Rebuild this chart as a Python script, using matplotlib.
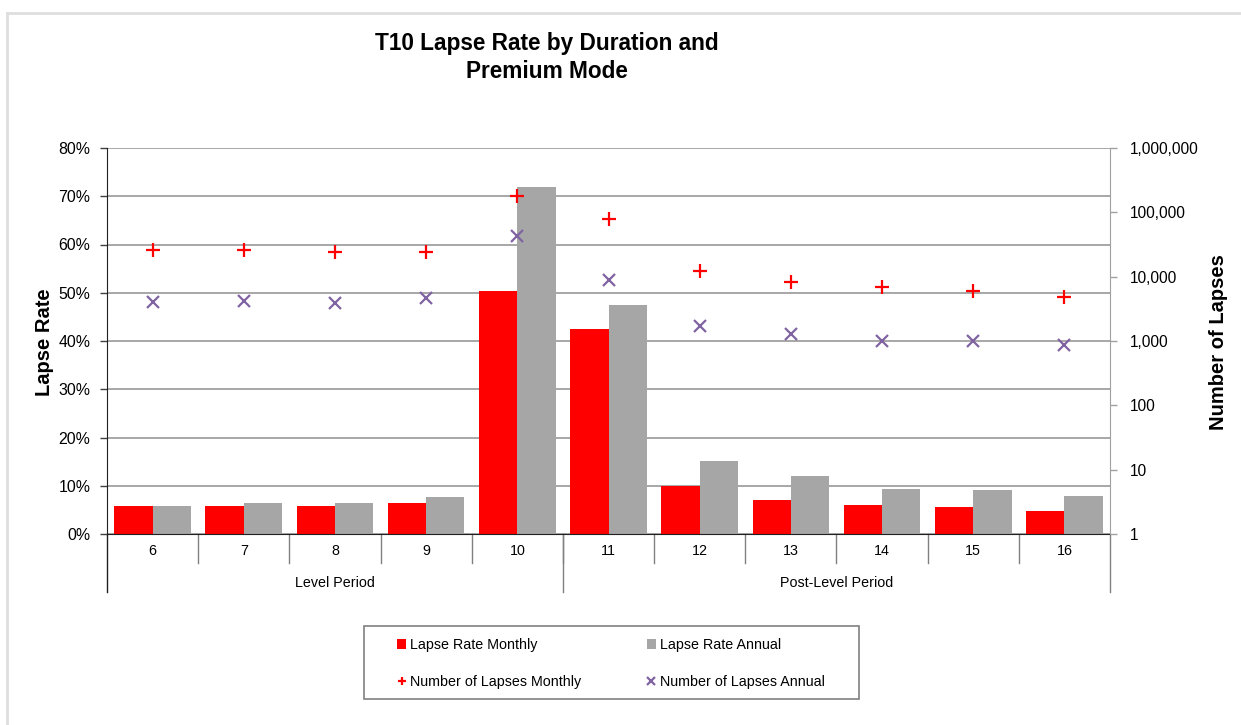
import matplotlib
matplotlib.use("Agg")
import matplotlib.pyplot as plt
from matplotlib.lines import Line2D
from matplotlib.patches import Rectangle
from matplotlib.ticker import FuncFormatter, FixedLocator, NullLocator

plt.rcParams['font.family'] = ['Liberation Sans', 'DejaVu Sans']

durations = ['6', '7', '8', '9', '10', '11', '12', '13', '14', '15', '16']
groups = ['Level Period', 'Post-Level Period']
group_sizes = [5, 6]

# lapse rate in %
rate_monthly = [5.7, 5.9, 5.9, 6.5, 50.3, 42.4, 10.0, 7.05, 6.0, 5.5, 4.8]
rate_annual = [5.9, 6.5, 6.4, 7.7, 71.9, 47.5, 15.2, 12.0, 9.4, 9.2, 7.9]
# number of lapses (log scale)
lapses_monthly = [26300, 26300, 23900, 24500, 181000, 79900, 12400, 8260, 6990, 5920, 4830]
lapses_annual = [4040, 4240, 3900, 4600, 42400, 8770, 1730, 1300, 1010, 1010, 877]

W, H = 1241, 725
fig = plt.figure(figsize=(W / 100, H / 100), dpi=100)

# light outer frame of the chart area
fig.add_artist(Line2D([7 / W, 1], [1 - 13 / H, 1 - 13 / H], color='#dedede', lw=2, transform=fig.transFigure))
fig.add_artist(Line2D([7 / W, 7 / W], [0, 1 - 13 / H], color='#dedede', lw=2, transform=fig.transFigure))

ax = fig.add_axes([107 / W, 1 - 534 / H, (1110 - 107) / W, (534 - 148) / H])
x = list(range(len(durations)))
bw = 0.42
ax.bar([i - bw / 2 for i in x], rate_monthly, width=bw, color='#ff0000', label='Lapse Rate Monthly', zorder=2)
ax.bar([i + bw / 2 for i in x], rate_annual, width=bw, color='#a6a6a6', label='Lapse Rate Annual', zorder=2)
ax.set_xlim(-0.5, len(durations) - 0.5)
ax.set_ylim(0, 80)
ax.set_yticks(range(0, 81, 10))
ax.yaxis.set_major_formatter(FuncFormatter(lambda v, p: f'{v:.0f}%'))
ax.grid(axis='y', color='#a0a0a0', lw=1.3, zorder=0)
ax.set_axisbelow(True)
ax.set_xticks(x, labels=durations)
ax.tick_params(axis='x', length=0, pad=7.5, labelsize=10.3)
ax.tick_params(axis='y', length=5, width=1, pad=7, labelsize=11.4, color='#404040')
for s in ['top', 'right']:
    ax.spines[s].set_visible(False)
ax.spines['left'].set_color('#202020')
ax.spines['bottom'].set_color('#202020')

# category dividers below the axis
trans = ax.get_xaxis_transform()
for b in range(1, len(durations)):
    ax.plot([b - 0.5, b - 0.5], [0, -0.075], color='#808080', lw=1, transform=trans, clip_on=False)
start = 0
ax.plot([-0.5, -0.5], [0, -0.15], color='#202020', lw=1, transform=trans, clip_on=False)
for g, n in zip(groups, group_sizes):
    end = start + n
    ax.plot([end - 0.5, end - 0.5], [0, -0.15], color='#808080', lw=1, transform=trans, clip_on=False)
    ax.text((start + end - 1) / 2, -0.126, g, transform=trans, ha='center', va='center', fontsize=10.3)
    start = end

ax2 = ax.twinx()
ax2.plot(x, lapses_monthly, linestyle='none', marker='+', ms=10, mew=1.6, color='#ff0000',
         label='Number of Lapses Monthly', zorder=3)
ax2.plot(x, lapses_annual, linestyle='none', marker='x', ms=8.5, mew=1.6, color='#8064a2',
         label='Number of Lapses Annual', zorder=3)
ax2.set_yscale('log')
ax2.set_ylim(1, 1e6)
ax2.yaxis.set_major_locator(FixedLocator([10 ** k for k in range(7)]))
ax2.yaxis.set_minor_locator(NullLocator())
ax2.yaxis.set_major_formatter(FuncFormatter(lambda v, p: f'{v:,.0f}'))
ax2.tick_params(axis='y', length=5, width=1, pad=9.4, labelsize=11.2, color='#a0a0a0')
for s in ['top', 'left', 'bottom']:
    ax2.spines[s].set_visible(False)
ax2.spines['right'].set_color('#a0a0a0')

fig.text(547 / W, 1 - 57.5 / H, 'T10 Lapse Rate by Duration and\nPremium Mode', ha='center', va='center',
         fontsize=16.3, fontweight='bold', linespacing=1.32)
fig.text(45 / W, 1 - 342 / H, 'Lapse Rate', rotation=90, ha='center', va='center', fontsize=14.5,
         fontweight='bold')
fig.text(1218 / W, 1 - 342 / H, 'Number of Lapses', rotation=90, ha='center', va='center', fontsize=14.5,
         fontweight='bold')

# legend box
fig.add_artist(Rectangle((364 / W, 1 - 699 / H), (859 - 364) / W, (699 - 626) / H, transform=fig.transFigure,
                         fill=False, edgecolor='#808080', lw=1.2))
h1, l1 = ax.get_legend_handles_labels()
h2, l2 = ax2.get_legend_handles_labels()
handles = [h1[0], h2[0], h1[1], h2[1]]
labels = [l1[0], l2[0], l1[1], l2[1]]
fig.legend(handles, labels, ncol=2, loc='center', bbox_to_anchor=(611 / W, 1 - 663.5 / H), frameon=False,
           fontsize=10.3, handlelength=0.6, handleheight=0.6, handletextpad=0.3, columnspacing=4.6,
           labelspacing=1.6, markerscale=0.6)

fig.savefig('out.png', dpi=100)
